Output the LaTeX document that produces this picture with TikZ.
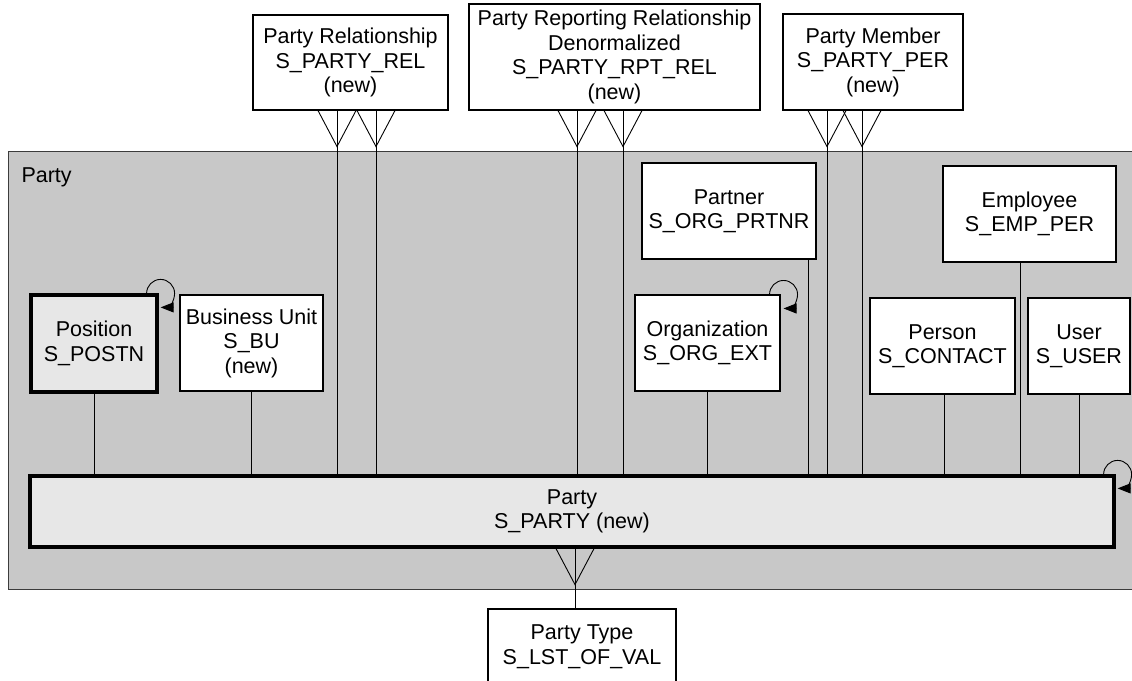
\documentclass[tikz,border=0pt]{standalone}
\usepackage{fontspec}
\setmainfont{Liberation Sans}
\usetikzlibrary{arrows.meta}
\definecolor{areagray}{RGB}{200,200,200}
\definecolor{keyfill}{RGB}{231,231,231}
\definecolor{areaedge}{RGB}{60,60,60}
\begin{document}
\begin{tikzpicture}[x=1pt,y=1pt,
  ent/.style={draw, fill=white, line width=1.1pt, inner sep=0pt, align=center,
    font=\fontsize{21.5}{24.5}\selectfont},
  key/.style={ent, fill=keyfill, line width=3.2pt},
  link/.style={line width=0.9pt},
  loopback/.style={line width=0.9pt, -{Triangle[length=13pt,width=10pt]}},
  foot/.pic={\draw[link] (-19,0) -- (0,-36) -- (19,0);}
]
\useasboundingbox (0,0) rectangle (1132,-680);
\begin{scope}
\clip (0,0) rectangle (1132,-680);
% subject area
\draw[fill=areagray, draw=areaedge, line width=0.8pt] (8,-151) rectangle (1145,-589);
\node[anchor=base west, font=\fontsize{21.5}{24.5}\selectfont] (arealabel) at (18,-182) {Party};

% entities outside the area
\node[ent, minimum width=195, minimum height=95] (rel) at (350.5,-62.5)
  {Party Relationship\\S\_PARTY\_REL\\(new)};
\node[ent, minimum width=291, minimum height=106] (rpt) at (614.5,-57)
  {Party Reporting Relationship\\Denormalized\\S\_PARTY\_RPT\_REL\\(new)};
\node[ent, minimum width=180, minimum height=96] (mem) at (873,-62)
  {Party Member\\S\_PARTY\_PER\\(new)};
\node[ent, minimum width=188, minimum height=75] (ptype) at (582,-646.5)
  {Party Type\\S\_LST\_OF\_VAL};

% entities inside the area
\node[ent, minimum width=174, minimum height=96] (partner) at (729,-211)
  {Partner\\S\_ORG\_PRTNR};
\node[ent, minimum width=173, minimum height=96] (emp) at (1029.5,-214)
  {Employee\\S\_EMP\_PER};
\node[key, minimum width=126, minimum height=97] (pos) at (94,-343.5)
  {Position\\S\_POSTN};
\node[ent, minimum width=143, minimum height=96] (bu) at (251.5,-343)
  {Business Unit\\S\_BU\\(new)};
\node[ent, minimum width=145, minimum height=96] (org) at (707.5,-343)
  {Organization\\S\_ORG\_EXT};
\node[ent, minimum width=145, minimum height=96] (person) at (942.5,-346)
  {Person\\S\_CONTACT};
\node[ent, minimum width=102, minimum height=96] (user) at (1079,-346)
  {User\\S\_USER};
\node[key, minimum width=1084, minimum height=71] (party) at (572,-511.5)
  {Party\\S\_PARTY (new)};

% one-to-one links into Party
\draw[link] (pos.south) -- (pos.south |- party.north);
\draw[link] (bu.south) -- (bu.south |- party.north);
\draw[link] (org.south) -- (org.south |- party.north);
\draw[link] (partner.south -| 808,0) -- (party.north -| 808,0);
\draw[link] (person.south -| 944,0) -- (party.north -| 944,0);
\draw[link] (emp.south -| 1020,0) -- (party.north -| 1020,0);
\draw[link] (user.south) -- (user.south |- party.north);

% one-to-many links (crow's foot at the many end)
\foreach \xx in {337,376} {
  \draw[link] (rel.south -| \xx,0) -- (party.north -| \xx,0);
  \path (rel.south -| \xx,0) pic {foot};
}
\foreach \xx in {577,623} {
  \draw[link] (rpt.south -| \xx,0) -- (party.north -| \xx,0);
  \path (rpt.south -| \xx,0) pic {foot};
}
\foreach \xx in {827,862} {
  \draw[link] (mem.south -| \xx,0) -- (party.north -| \xx,0);
  \path (mem.south -| \xx,0) pic {foot};
}
\draw[link] (party.south -| 575,0) -- (ptype.north -| 575,0);
\path (party.south -| 575,0) pic {foot};

% recursive relationships
\draw[loopback] ([xshift=-12pt]pos.north east) arc[start angle=180, end angle=-90, radius=14pt];
\draw[loopback] ([xshift=-11pt]org.north east) arc[start angle=180, end angle=-90, radius=14pt];
\draw[loopback] ([xshift=-12pt]party.north east) arc[start angle=180, end angle=-90, radius=14pt];
\end{scope}
\end{tikzpicture}
\end{document}
